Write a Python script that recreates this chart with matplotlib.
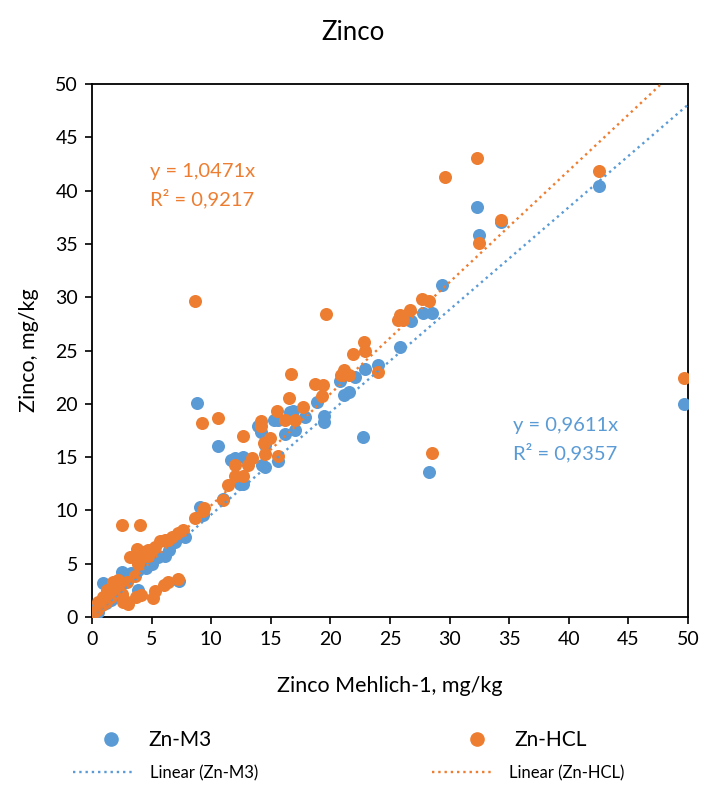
import matplotlib
matplotlib.use("Agg")
import matplotlib.pyplot as plt
import numpy as np
from matplotlib.lines import Line2D

plt.rcParams['font.family'] = ['Lato', 'DejaVu Sans']

# ---- data ----
x_m3 = [49.7, 42.5, 32.3, 34.3, 32.5, 29.4, 27.8, 28.5, 26.8, 25.8, 28.3, 24.0, 22.9,
        22.1, 20.8, 21.1, 21.6, 18.9, 19.5, 19.5, 17.9, 22.7, 16.9, 16.6, 15.6, 17.0,
        16.2, 14.2, 14.5, 15.6, 12.0, 12.7, 14.5, 14.3, 12.7, 11.0, 9.1, 9.3, 8.8,
        10.6, 12.4, 11.7, 13.9, 15.3, 7.8, 6.1, 3.9, 2.5, 0.9, 3.9, 7.3, 7.2, 3.3,
        3.9, 0.2, 0.05, 0.5, 1.2, 1.6, 2.0, 4.5, 5.0, 5.5, 6.5, 7.0]
y_m3 = [20.0, 40.4, 38.5, 37.1, 35.8, 31.1, 28.5, 28.5, 27.8, 25.3, 13.6, 23.6, 23.3,
        22.5, 22.1, 20.8, 21.1, 20.2, 18.9, 18.3, 18.8, 16.9, 19.3, 19.2, 18.5, 17.5,
        17.2, 17.4, 16.1, 14.6, 14.9, 15.0, 14.1, 14.3, 12.5, 11.1, 10.3, 9.6, 20.1,
        16.0, 12.5, 14.7, 17.9, 18.5, 7.5, 5.7, 5.2, 4.2, 3.2, 2.5, 3.4, 3.5, 4.1,
        4.4, 0.8, 0.6, 0.5, 1.3, 1.6, 2.0, 4.6, 5.0, 5.6, 6.3, 7.0]

x_hcl = [49.7, 42.5, 32.3, 29.6, 34.3, 32.5, 27.7, 28.3, 26.7, 25.8, 26.1, 25.7, 19.6,
         28.5, 22.8, 22.9, 21.9, 24.0, 21.1, 20.9, 21.6, 18.7, 19.4, 19.3, 17.7, 16.7,
         16.5, 15.5, 16.2, 17.0, 14.2, 14.2, 14.9, 14.4, 14.5, 15.6, 13.4, 12.0, 13.1,
         12.0, 12.7, 11.4, 11.0, 9.4, 8.6, 9.3, 9.2, 10.6, 12.7, 8.6, 2.5, 4.0,
         7.6, 7.2, 6.7, 6.4, 5.7, 5.3, 4.7, 4.3, 4.7, 4.1, 3.8, 3.2, 5.0, 6.1,
         7.2, 6.4, 6.0, 5.3, 5.1, 4.1, 3.7, 3.0, 2.6,
         0.1, 0.4, 0.8, 1.2, 1.6, 1.8, 2.0, 2.5, 2.9, 1.8, 2.2, 1.3, 0.9, 0.5,
         2.5, 2.7, 3.6, 3.9]
y_hcl = [22.4, 41.8, 43.1, 41.3, 37.2, 35.1, 29.8, 29.6, 28.8, 28.3, 27.9, 27.9, 28.4,
         15.4, 25.8, 25.0, 24.7, 23.0, 23.2, 22.7, 22.7, 21.9, 21.8, 20.7, 19.7, 22.8,
         20.5, 19.3, 18.5, 18.5, 18.4, 17.9, 16.8, 16.3, 15.3, 15.1, 14.9, 14.3, 14.3,
         13.2, 13.2, 12.4, 11.0, 10.2, 9.3, 9.9, 18.2, 18.7, 17.0, 29.6, 8.6, 8.6,
         8.2, 7.85, 7.5, 7.2, 7.1, 6.6, 6.3, 6.1, 5.7, 5.5, 6.4, 5.6, 6.3, 7.2,
         3.6, 3.3, 3.0, 2.4, 1.75, 2.1, 1.9, 1.2, 1.4,
         0.35, 0.7, 1.1, 1.4, 1.9, 2.4, 2.8, 3.2, 3.3, 3.3, 3.5, 2.5, 1.9, 1.4,
         2.2, 1.6, 3.8, 5.0]

slope_m3, r2_m3 = 0.9611, 0.9357
slope_hcl, r2_hcl = 1.0471, 0.9217

axis_ticks = [0, 5, 10, 15, 20, 25, 30, 35, 40, 45, 50]

blue = '#5B9BD5'
orange = '#ED7D31'

W, H = 706, 787
fig = plt.figure(figsize=(W / 100, H / 100), dpi=100)
ax = fig.add_axes([92 / W, 1 - 617 / H, (688 - 92) / W, (617 - 84) / H])

ax.scatter(x_m3, y_m3, s=88, color=blue, linewidths=0, zorder=3)
ax.scatter(x_hcl, y_hcl, s=88, color=orange, linewidths=0, zorder=4)

xl = np.array([0, 50])
ax.plot(xl, slope_m3 * xl, linestyle=':', color=blue, lw=1.7, zorder=5)
ax.plot(xl, slope_hcl * xl, linestyle=':', color=orange, lw=1.7, zorder=5)

ax.set_xlim(0, 50)
ax.set_ylim(0, 50)
ax.set_xticks(axis_ticks)
ax.set_yticks(axis_ticks)
ax.tick_params(direction='out', length=5, width=1.2, labelsize=14, pad=5, colors='black')
for sp in ax.spines.values():
    sp.set_linewidth(1.3)
    sp.set_color('black')

ax.set_xlabel('Zinco Mehlich-1, mg/kg', fontsize=15.5, labelpad=20)
ax.set_ylabel('Zinco, mg/kg', fontsize=15.5, labelpad=12)

fig.text(0.5, 1 - 33 / H, 'Zinco', ha='center', va='center', fontsize=18.5)

# trendline equations
fig.text(150 / W, 1 - 171 / H, 'y = ' + f'{slope_hcl:.4f}'.replace('.', ',') + 'x',
         color=orange, fontsize=14.5, va='center', ha='left')
fig.text(150 / W, 1 - 199 / H, 'R² = ' + f'{r2_hcl:.4f}'.replace('.', ','),
         color=orange, fontsize=14.5, va='center', ha='left')
fig.text(513 / W, 1 - 425 / H, 'y = ' + f'{slope_m3:.4f}'.replace('.', ',') + 'x',
         color=blue, fontsize=14.5, va='center', ha='left')
fig.text(513 / W, 1 - 453 / H, 'R² = ' + f'{r2_m3:.4f}'.replace('.', ','),
         color=blue, fontsize=14.5, va='center', ha='left')

# legend entries
def add_leg(handle, label, x_px, y_px, fs, hl, htp):
    leg = fig.legend([handle], [label], loc='center left',
                     bbox_to_anchor=(x_px / W, 1 - y_px / H),
                     frameon=False, fontsize=fs, handlelength=hl,
                     handletextpad=htp, borderpad=0, borderaxespad=0)
    return leg

h_m3 = Line2D([], [], marker='o', linestyle='none', color=blue, markersize=9.5)
h_hcl = Line2D([], [], marker='o', linestyle='none', color=orange, markersize=9.5)
h_lm3 = Line2D([], [], linestyle=':', color=blue, lw=1.7)
h_lhcl = Line2D([], [], linestyle=':', color=orange, lw=1.7)

add_leg(h_m3, 'Zn-M3', 92, 740, 15, 1.85, 0.85)
add_leg(h_hcl, 'Zn-HCL', 458, 740, 15, 1.85, 0.85)
add_leg(h_lm3, 'Linear (Zn-M3)', 73, 773, 12, 3.6, 1.0)
add_leg(h_lhcl, 'Linear (Zn-HCL)', 432, 773, 12, 3.6, 1.0)

fig.savefig('out.png', dpi=100)
